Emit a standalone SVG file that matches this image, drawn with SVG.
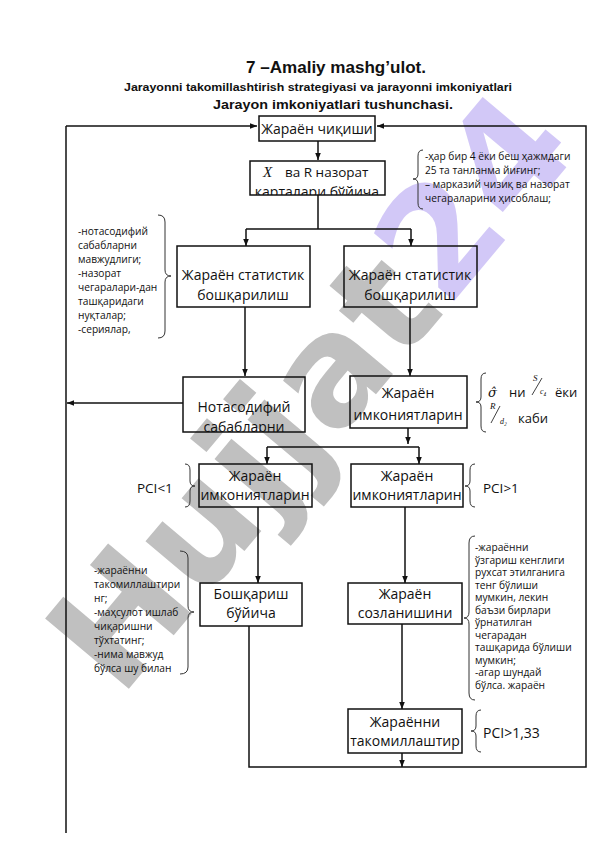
<svg xmlns="http://www.w3.org/2000/svg" width="596" height="842" viewBox="0 0 596 842">
<style>
.t{font-family:"Open Sans","Noto Sans",sans-serif;fill:#111}
.bx{font-size:14px;text-anchor:middle}
.sm{font-size:10.2px}
.h{font-family:"Liberation Sans","Open Sans",sans-serif;font-weight:bold;fill:#111;text-anchor:middle}
.box{fill:none;stroke:#111;stroke-width:1.5}
.ln{fill:none;stroke:#111;stroke-width:1.5}
.br{fill:none;stroke:#333;stroke-width:1}
.ser{font-family:"Liberation Serif","DejaVu Serif",serif;font-style:italic;fill:#111}
</style>
<defs>
<marker id="ah" viewBox="0 0 10 10" refX="10" refY="5" markerUnits="userSpaceOnUse" markerWidth="7" markerHeight="7" orient="auto">
<path d="M0,1 L10,5 L0,9 z" fill="#111"/>
</marker>
<clipPath id="cX"><rect x="250" y="161" width="135" height="34"/></clipPath>
<clipPath id="cN"><rect x="183" y="377" width="122" height="55"/></clipPath>
<clipPath id="cR1"><rect x="420" y="145" width="175" height="64"/></clipPath>
<clipPath id="cR2"><rect x="470" y="535" width="120" height="164"/></clipPath>
</defs>
<rect width="596" height="842" fill="#fff"/>

<g id="watermark" transform="translate(309,390) rotate(-50)" opacity="0.72">
<text x="0" y="54" font-family="DejaVu Sans,sans-serif" font-weight="bold" font-size="150" text-anchor="middle"><tspan fill="#a8a8a8">Hujjat</tspan><tspan fill="#c2b4f4">24</tspan></text>
</g>

<g id="title">
<text class="h" x="336" y="73" font-size="16" textLength="180" lengthAdjust="spacingAndGlyphs">7 –Amaliy mashg’ulot.</text>
<text class="h" x="318" y="91" font-size="11.5" textLength="388" lengthAdjust="spacingAndGlyphs">Jarayonni takomillashtirish strategiyasi va jarayonni imkoniyatlari</text>
<text class="h" x="333" y="109" font-size="13.5" textLength="240" lengthAdjust="spacingAndGlyphs">Jarayon imkoniyatlari tushunchasi.</text>
</g>

<g id="connectors">
<path class="ln" d="M66,126 H257" marker-end="url(#ah)"/>
<path class="ln" d="M66,126 V833"/>
<path class="ln" d="M183,403 H67" marker-end="url(#ah)"/>
<path class="ln" d="M318,141 V160" marker-end="url(#ah)"/>
<path class="ln" d="M318,195 V229 M246,229 H411"/>
<path class="ln" d="M246,229 V246" marker-end="url(#ah)"/>
<path class="ln" d="M411,229 V246" marker-end="url(#ah)"/>
<path class="ln" d="M245,307 V376" marker-end="url(#ah)"/>
<path class="ln" d="M410,307 V376" marker-end="url(#ah)"/>
<path class="ln" d="M408,428 V444" marker-end="url(#ah)"/>
<path class="ln" d="M267,447 H419"/>
<path class="ln" d="M267,447 V464" marker-end="url(#ah)"/>
<path class="ln" d="M419,447 V464" marker-end="url(#ah)"/>
<path class="ln" d="M258,507 V583" marker-end="url(#ah)"/>
<path class="ln" d="M405,507 V583" marker-end="url(#ah)"/>
<path class="ln" d="M249,626 V767 H586 V126 H377" marker-end="url(#ah)"/>
<path class="ln" d="M402,624 V709" marker-end="url(#ah)"/>
<path class="ln" d="M402,753 V767" marker-end="url(#ah)"/>
</g>

<g id="n-chiqishi">
<rect class="box" x="259" y="116" width="116" height="25"/>
<text class="t bx" x="317" y="134" font-size="13.5">Жараён чиқиши</text>
</g>

<g id="n-xr">
<rect class="box" x="250" y="161" width="135" height="34"/>
<g clip-path="url(#cX)">
<text class="ser" x="263" y="177" font-size="15">X</text>
<text class="t" x="285" y="177" font-size="13.5">ва  R назорат</text>
<text class="t bx" x="317" y="197" font-size="13.5">карталари бўйича</text>
</g>
</g>

<g id="note-xr">
<path class="br" d="M423,150 Q418,150 418,156 V174 Q418,179 413,179 Q418,179 418,184 V203 Q418,209 423,209"/>
<g clip-path="url(#cR1)">
<text class="t sm" x="425" y="160">-ҳар бир 4 ёки беш ҳажмдаги</text>
<text class="t sm" x="425" y="174">25 та танланма йиғинг;</text>
<text class="t sm" x="425" y="188">–  марказий чизиқ ва назорат</text>
<text class="t sm" x="425" y="202">чегараларини ҳисоблаш;</text>
</g>
</g>

<g id="note-left1">
<path class="br" d="M158,215 Q165,215 165,222 V270 Q165,276 171,276 Q165,276 165,282 V331 Q165,338 158,338"/>
<text class="t sm" x="78" y="235">-нотасодифий</text>
<text class="t sm" x="78" y="249">сабабларни</text>
<text class="t sm" x="78" y="263">мавжудлиги;</text>
<text class="t sm" x="78" y="277">-назорат</text>
<text class="t sm" x="78" y="291">чегаралари-дан</text>
<text class="t sm" x="78" y="305">ташқаридаги</text>
<text class="t sm" x="78" y="319">нуқталар;</text>
<text class="t sm" x="78" y="333">-сериялар,</text>
</g>

<g id="n-stat1">
<rect class="box" x="177" y="246" width="133" height="61"/>
<text class="t bx" x="243" y="280">Жараён статистик</text>
<text class="t bx" x="243" y="300">бошқарилиш</text>
</g>

<g id="n-stat2">
<rect class="box" x="344" y="246" width="133" height="61"/>
<text class="t bx" x="410" y="280">Жараён статистик</text>
<text class="t bx" x="410" y="300">бошқарилиш</text>
</g>

<g id="n-notas">
<rect class="box" x="183" y="377" width="122" height="55"/>
<g clip-path="url(#cN)">
<text class="t bx" x="244" y="412">Нотасодифий</text>
<text class="t bx" x="244" y="432">сабабларни</text>
</g>
</g>

<g id="n-imk1">
<rect class="box" x="350" y="376" width="117" height="52"/>
<text class="t bx" x="408" y="398">Жараён</text>
<text class="t bx" x="408" y="420">имкониятларин</text>
</g>

<g id="note-sigma">
<path class="br" d="M486,373 Q481,373 481,379 V397 Q481,402 476,402 Q481,402 481,407 V426 Q481,432 486,432"/>
<text x="488" y="397" font-family="DejaVu Serif,serif" font-style="italic" font-size="13" fill="#111">σ̂</text>
<text class="t" x="509" y="397" font-size="13">ни</text>
<text class="ser" x="533" y="381" font-size="9">S</text>
<path d="M532,395 L542,378" stroke="#111" stroke-width="0.8"/>
<text class="ser" x="540" y="394" font-size="8">c₄</text>
<text class="t" x="555" y="397" font-size="13">ёки</text>
<text class="ser" x="490" y="409" font-size="9">R</text>
<path d="M491,423 L500,406" stroke="#111" stroke-width="0.8"/>
<text class="ser" x="500" y="424" font-size="8">d₂</text>
<text class="t" x="518" y="423" font-size="13">каби</text>
</g>

<g id="n-imk2">
<rect class="box" x="199" y="464" width="113" height="43"/>
<text class="t bx" x="255" y="481" font-size="13.5">Жараён</text>
<text class="t bx" x="255" y="500" font-size="13.5">имкониятларин</text>
</g>

<g id="note-pci1">
<text class="t" x="137" y="493" font-size="13.5">PCI&lt;1</text>
<path class="br" d="M185,464 Q190,464 190,470 V481 Q190,486 195,486 Q190,486 190,491 V501 Q190,507 185,507"/>
</g>

<g id="n-imk3">
<rect class="box" x="351" y="464" width="112" height="43"/>
<text class="t bx" x="407" y="481" font-size="13.5">Жараён</text>
<text class="t bx" x="407" y="500" font-size="13.5">имкониятларин</text>
</g>

<g id="note-pci2">
<path class="br" d="M475,464 Q470,464 470,470 V481 Q470,486 465,486 Q470,486 470,491 V501 Q470,507 475,507"/>
<text class="t" x="483" y="493" font-size="13.5">PCI&gt;1</text>
</g>

<g id="note-left2">
<path class="br" d="M180,551 Q188,551 188,558 V606 Q188,612 194,612 Q188,612 188,618 V667 Q188,674 180,674"/>
<text class="t sm" x="94" y="574">-жараённи</text>
<text class="t sm" x="94" y="588">такомиллаштири</text>
<text class="t sm" x="94" y="602">нг;</text>
<text class="t sm" x="94" y="616">-маҳсулот ишлаб</text>
<text class="t sm" x="94" y="630">чиқаришни</text>
<text class="t sm" x="94" y="644">тўхтатинг;</text>
<text class="t sm" x="94" y="658">-нима мавжуд</text>
<text class="t sm" x="94" y="672">бўлса шу билан</text>
</g>

<g id="n-boshqarish">
<rect class="box" x="200" y="583" width="102" height="43"/>
<text class="t bx" x="251" y="599">Бошқариш</text>
<text class="t bx" x="251" y="618">бўйича</text>
</g>

<g id="n-sozl">
<rect class="box" x="348" y="583" width="114" height="41"/>
<text class="t bx" x="405" y="599">Жараён</text>
<text class="t bx" x="405" y="618">созланишини</text>
</g>

<g id="note-right2">
<path class="br" d="M475,536 Q469,536 469,543 V612 Q469,618 464,618 Q469,618 469,624 V693 Q469,700 475,700"/>
<g clip-path="url(#cR2)">
<text class="t sm" x="475" y="551">-жараённи</text>
<text class="t sm" x="475" y="563.5">ўзгариш кенглиги</text>
<text class="t sm" x="475" y="576">рухсат этилганига</text>
<text class="t sm" x="475" y="588.5">тенг бўлиши</text>
<text class="t sm" x="475" y="601">мумкин, лекин</text>
<text class="t sm" x="475" y="613.5">баъзи бирлари</text>
<text class="t sm" x="475" y="626">ўрнатилган</text>
<text class="t sm" x="475" y="638.5">чегарадан</text>
<text class="t sm" x="475" y="651">ташқарида бўлиши</text>
<text class="t sm" x="475" y="663.5">мумкин;</text>
<text class="t sm" x="475" y="676">-агар шундай</text>
<text class="t sm" x="475" y="688.5">бўлса. жараён</text>
</g>
</g>

<g id="n-takom">
<rect class="box" x="348" y="709" width="114" height="44"/>
<text class="t bx" x="405" y="727">Жараённи</text>
<text class="t bx" x="405" y="746">такомиллаштир</text>
</g>

<g id="note-pci3">
<path class="br" d="M481,710 Q476,710 476,716 V726 Q476,731 471,731 Q476,731 476,736 V746 Q476,752 481,752"/>
<text class="t" x="483" y="738" font-size="14">PCI&gt;1,33</text>
</g>
</svg>
